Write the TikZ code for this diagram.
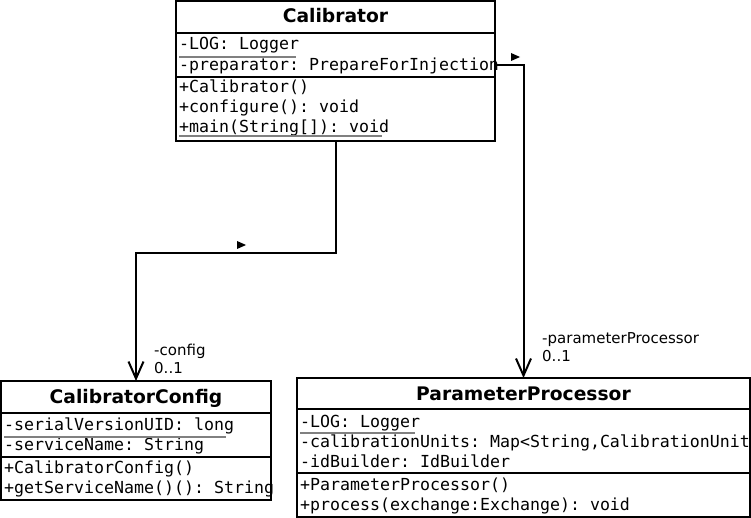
\documentclass[tikz,border=0pt]{standalone}
\usepackage{fontspec}
\setmainfont{DejaVu Sans}
\setmonofont{DejaVu Sans Mono}
\usetikzlibrary{arrows.meta}
\begin{document}
\begin{tikzpicture}[x=1pt,y=1pt,
  box/.style={draw=black, line width=2pt, inner sep=0pt, outer sep=0pt, anchor=north west},
  cls/.style={font=\fontsize{18.7}{22}\selectfont\bfseries, anchor=base, inner sep=0pt},
  mem/.style={font=\fontsize{16.6}{20}\selectfont\ttfamily, anchor=base west, inner sep=0pt},
  sep/.style={line width=2pt},
  ul/.style={draw=gray, line width=1.8pt},
  lbl/.style={font=\fontsize{15}{18}\selectfont, anchor=base west, inner sep=0pt},
  assoc/.style={line width=2pt, -{Straight Barb[length=17pt,width=15pt,line width=2pt]}},
  tri/.style={fill=black}]
\useasboundingbox (0,0) rectangle (751,-518);

% Calibrator
\node[box, minimum width=319pt, minimum height=140pt] (cal) at (176,-1) {};
\draw[sep] (176,-33) -- (495,-33);
\draw[sep] (176,-77) -- (495,-77);
\node[cls] (calT) at (335.5,-23) {Calibrator};
\node[mem] (calA1) at (179,-50) {-LOG: Logger};
\node[mem] (calA2) at (179,-71) {-preparator: PrepareForInjection};
\node[mem] (calM1) at (179,-93) {+Calibrator()};
\node[mem] (calM2) at (179,-113) {+configure(): void};
\node[mem] (calM3) at (179,-133) {+main(String[]): void};
\draw[ul] (179,-57) -- (296,-57);
\draw[ul] (179,-136) -- (382,-136);

% CalibratorConfig
\node[box, minimum width=270pt, minimum height=119pt] (conf) at (1,-381) {};
\draw[sep] (1,-413) -- (271,-413);
\draw[sep] (1,-457) -- (271,-457);
\node[cls] (confT) at (136,-403) {CalibratorConfig};
\node[mem] (confA1) at (4,-430) {-serialVersionUID: long};
\node[mem] (confA2) at (4,-450) {-serviceName: String};
\node[mem] (confM1) at (4,-473) {+CalibratorConfig()};
\node[mem] (confM2) at (4,-493) {+getServiceName()(): String};
\draw[ul] (4,-437) -- (226,-437);

% ParameterProcessor
\node[box, minimum width=453pt, minimum height=139pt] (pp) at (297,-378) {};
\draw[sep] (297,-409) -- (750,-409);
\draw[sep] (297,-473) -- (750,-473);
\node[cls] (ppT) at (523.5,-400) {ParameterProcessor};
\node[mem] (ppA1) at (300,-427) {-LOG: Logger};
\node[mem] (ppA2) at (300,-447) {-calibrationUnits: Map<String,CalibrationUnit};
\node[mem] (ppA3) at (300,-467) {-idBuilder: IdBuilder};
\node[mem] (ppM1) at (300,-490) {+ParameterProcessor()};
\node[mem] (ppM2) at (300,-510) {+process(exchange:Exchange): void};
\draw[ul] (300,-433) -- (415,-433);

% association: Calibrator -> CalibratorConfig
\draw[assoc] (cal.south) -- ++(0,-112) -| (conf.north);
\fill[tri] (237,-241) -- (246,-245) -- (237,-249) -- cycle;
\node[lbl] (lc1) at (154,-355) {-config};
\node[lbl] (lc2) at (154,-373) {0..1};

% association: Calibrator -> ParameterProcessor
\coordinate (p1) at (497,-65);
\draw[assoc] (p1) -| (pp.north);
\fill[tri] (511,-53) -- (520,-57) -- (511,-61) -- cycle;
\node[lbl] (lp1) at (542,-343) {-parameterProcessor};
\node[lbl] (lp2) at (542,-361) {0..1};
\end{tikzpicture}
\end{document}
